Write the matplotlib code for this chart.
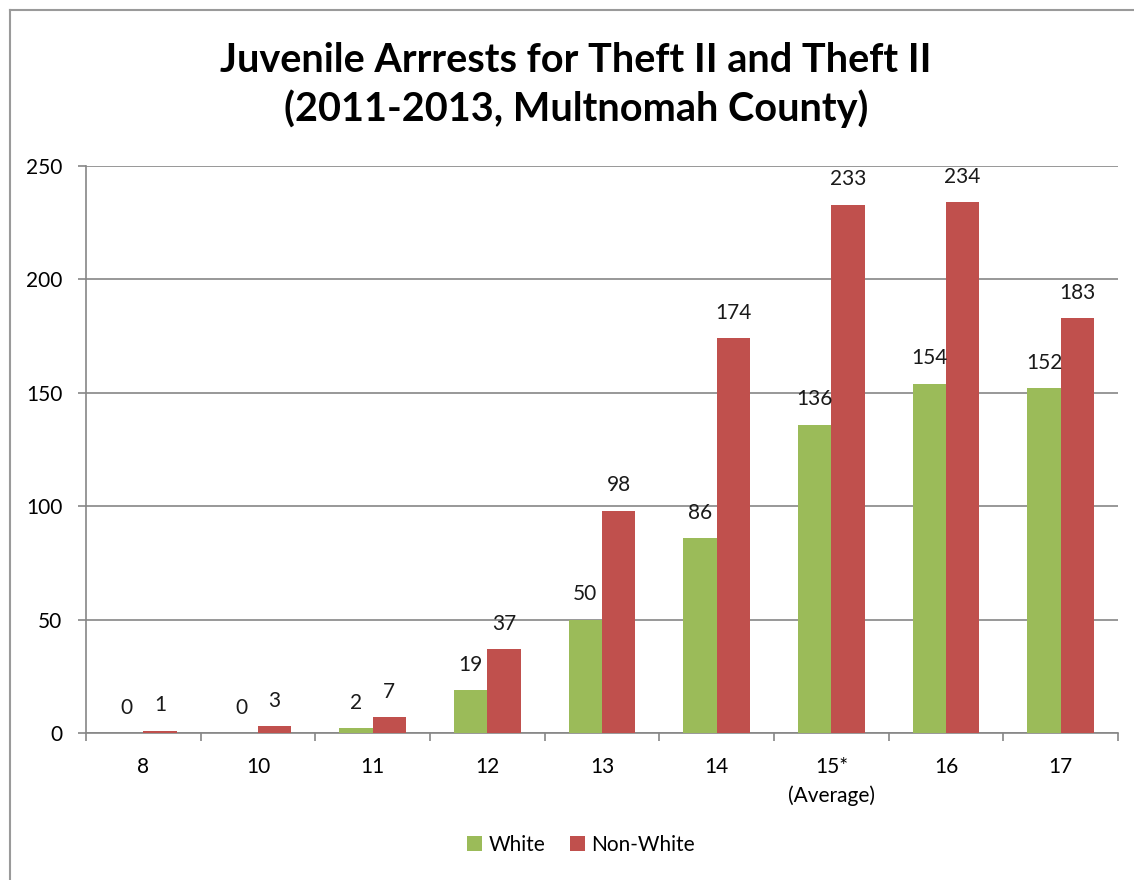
import numpy as np
import matplotlib
matplotlib.use("Agg")
from matplotlib import pyplot as plt
from matplotlib.lines import Line2D

ages = ["8", "10", "11", "12", "13", "14", "15*\n(Average)", "16", "17"]
white = [0, 0, 2, 19, 50, 86, 136, 154, 152]
non_white = [1, 3, 7, 37, 98, 174, 233, 234, 183]

green = "#9BBB59"
red = "#C0504D"
grey = "#868686"

plt.rcParams["font.family"] = ["Lato", "DejaVu Sans"]

fig = plt.figure(figsize=[11.34, 8.8], dpi=100)
ax = fig.add_axes([86/1134, 1-733/880, (1118-86)/1134, (733-166)/880])

x = np.arange(len(ages))
w = 0.29
b1 = ax.bar(x - w/2, white, w, color=green, label="White", zorder=3)
b2 = ax.bar(x + w/2, non_white, w, color=red, label="Non-White", zorder=3)

for bars, vals in [(b1, white), (b2, non_white)]:
    for b, v in zip(bars, vals):
        ax.annotate(str(v), (b.get_x() + b.get_width()/2, v), xytext=(0, 11),
                    textcoords="offset points", ha="center", va="bottom",
                    fontsize=15, color="#1a1a1a", zorder=4)

ax.set_xlim(-0.5, 8.5)
ax.set_ylim(0, 250)
ax.set_yticks(range(0, 251, 50))
ax.yaxis.grid(True, color=grey, linewidth=1.2, zorder=0)
ax.set_axisbelow(True)

ax.set_xticks(np.arange(-0.5, 9, 1))
ax.set_xticklabels([])
ax.set_xticks(x, minor=True)
ax.set_xticklabels(ages, minor=True, fontsize=15, linespacing=1.5, va="top")
ax.tick_params(axis="x", which="major", length=6, width=1.2, color=grey, direction="out")
ax.tick_params(axis="x", which="minor", length=0, pad=17)
ax.tick_params(axis="y", length=6, width=1.2, color=grey, pad=11, labelsize=15)

for s in ["top", "right"]:
    ax.spines[s].set_visible(False)
for s in ["left", "bottom"]:
    ax.spines[s].set_color(grey)
    ax.spines[s].set_linewidth(1.2)

fig.text(0.508, 1-85/880, "Juvenile Arrrests for Theft II and Theft II\n(2011-2013, Multnomah County)",
         ha="center", va="center", fontsize=28.5, fontweight="bold", linespacing=1.35)

fig.legend(handles=[b1, b2], loc="center", bbox_to_anchor=(581/1134, 1-845/880), ncol=2,
           frameon=False, fontsize=15, handlelength=0.7, handleheight=0.7,
           handletextpad=0.3, columnspacing=1.2)

# chart border
fig.add_artist(Line2D([10/1134, 10/1134], [0, 1-10/880], color="#9a9a9a", linewidth=1.5))
fig.add_artist(Line2D([10/1134, 1], [1-10/880, 1-10/880], color="#9a9a9a", linewidth=1.5))

fig.savefig("out.png", dpi=100)
